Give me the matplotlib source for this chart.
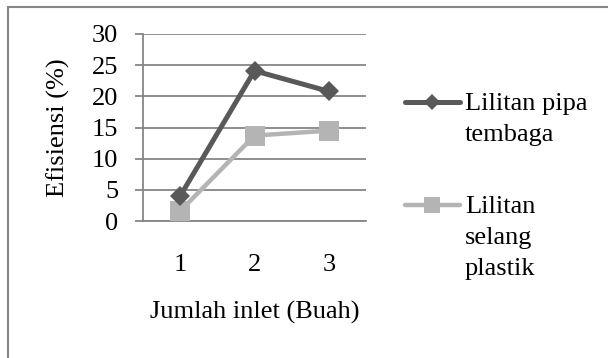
import matplotlib.pyplot as plt
from matplotlib.lines import Line2D
from matplotlib.patches import Rectangle

inlet = [1, 2, 3]
pipa_tembaga = [4.0, 24.1, 20.8]
selang_plastik = [1.6, 13.7, 14.5]
yticks = [0, 5, 10, 15, 20, 25, 30]

gelap = "#595959"
terang = "#b4b4b4"
abu = "#868686"

plt.rcParams["font.family"] = ["Liberation Serif", "DejaVu Serif"]
fs = 19

W, H = 608, 358
fig = plt.figure(figsize=(W / 100, H / 100), dpi=100)

# bingkai luar grafik
fig.patches.append(Rectangle((7.5 / W, -0.1), 1.2, 1 - 7 / H + 0.1, transform=fig.transFigure,
                             fill=False, edgecolor=abu, linewidth=1.5))

ax = fig.add_axes([143 / W, 1 - 221 / H, 223 / W, 187 / H])

ax.plot(inlet, selang_plastik, color=terang, linewidth=3.2, marker="s", markersize=14,
        markeredgewidth=0, zorder=3)
ax.plot(inlet, pipa_tembaga, color=gelap, linewidth=3.6, marker="D", markersize=10,
        markeredgewidth=0, zorder=4)

ax.set_xlim(0.5, 3.5)
ax.set_ylim(0, 30)
ax.set_xticks(inlet)
ax.set_yticks(yticks)
ax.yaxis.grid(True, color=abu, linewidth=1.3)
ax.set_axisbelow(True)

for s in ["top", "right"]:
    ax.spines[s].set_visible(False)
for s in ["left", "bottom"]:
    ax.spines[s].set_color(abu)
    ax.spines[s].set_linewidth(1.3)

ax.tick_params(axis="y", direction="out", length=5.8, width=1.3, color=abu, pad=12, labelsize=fs)
ax.tick_params(axis="x", length=0, pad=24, labelsize=fs)

ax.set_xlabel("Jumlah inlet (Buah)", fontsize=fs)
ax.xaxis.label.set_verticalalignment("center")
ax.xaxis.set_label_coords(0.5, (221 - 312) / 187)
ax.set_ylabel("Efisiensi (%)", fontsize=fs)
ax.yaxis.label.set_verticalalignment("center")
ax.yaxis.set_label_coords((58 - 143) / 223, 0.5)

# legenda
def entri(y, warna, marker, ms, lw, teks):
    fig.lines.append(Line2D([405 / W, 460 / W], [1 - y / H] * 2, transform=fig.transFigure,
                            color=warna, linewidth=lw, solid_capstyle="round"))
    fig.lines.append(Line2D([432 / W], [1 - y / H], transform=fig.transFigure, color=warna,
                            marker=marker, markersize=ms, markeredgewidth=0))
    fig.text(465 / W, 1 - (y - 9) / H, teks, fontsize=fs, va="top", ha="left", linespacing=1.52)

entri(102, gelap, "D", 8.5, 3.6, "Lilitan pipa\ntembaga")
entri(205, terang, "s", 11.5, 3.2, "Lilitan\nselang\nplastik")

fig.savefig("out.png", dpi=100)
